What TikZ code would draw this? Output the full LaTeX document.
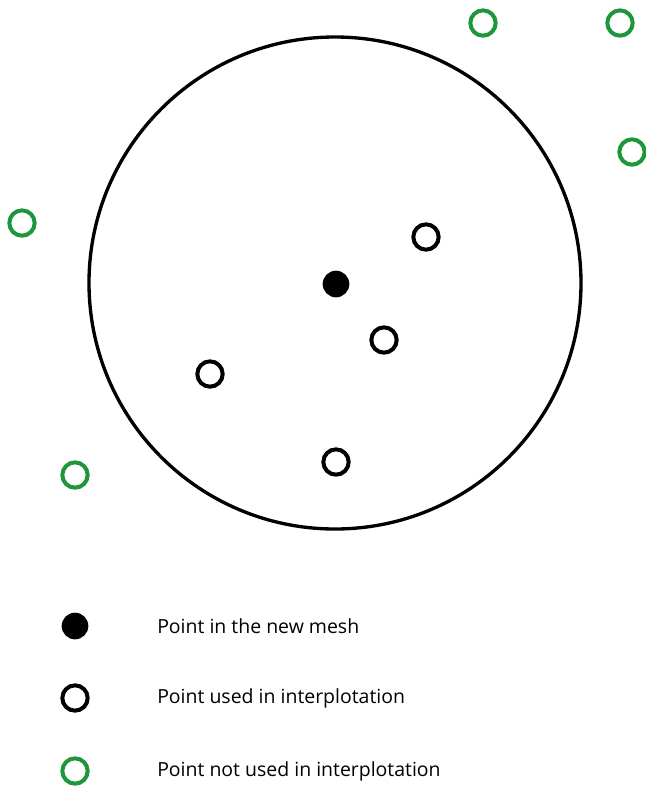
\documentclass[tikz,border=0pt]{standalone}
\usepackage{fontspec}
\setmainfont{Open Sans}
\usepackage{xcolor}
\usepackage{tikz}
\usetikzlibrary{positioning}

\definecolor{ringgreen}{RGB}{30,150,60}

\begin{document}
\begin{tikzpicture}[
x=0.75pt, y=-0.75pt,
node distance=8mm and 17mm,
zone/.style={draw, circle, line width=2.5pt, minimum size=369pt, inner sep=0pt},
newpt/.style={circle, fill=black, minimum size=20pt, inner sep=0pt},
usedpt/.style={circle, draw=black, line width=3pt, minimum size=19pt, inner sep=0pt},
freept/.style={circle, draw=ringgreen, line width=3pt, minimum size=19pt, inner sep=0pt},
lbl/.style={font=\fontsize{14.6}{17}\selectfont, inner sep=0pt}
]
\useasboundingbox (0,0) rectangle (646,794);

% search radius
\node[zone] (zone) at (335,283) {};

% points
\node[newpt] (p0) at (336,284) {};
\node[usedpt] (u1) at (426,237) {};
\node[usedpt] (u2) at (384,340) {};
\node[usedpt] (u3) at (210,374) {};
\node[usedpt] (u4) at (336,462) {};
\node[freept] (f1) at (483,23) {};
\node[freept] (f2) at (620,23) {};
\node[freept] (f3) at (632,152) {};
\node[freept] (f4) at (22,223) {};
\node[freept] (f5) at (75,475) {};

% legend
\node[newpt] (lgnew) at (75,626) {};
\node[usedpt] (lgused) at (75,698) {};
\node[freept] (lgfree) at (75,771) {};
\node[lbl, anchor=west] (txnew) at (157,626) {Point in the new mesh};
\node[lbl, anchor=west] (txused) at (157,698) {Point used in interplotation};
\node[lbl, anchor=west] (txfree) at (157,771) {Point not used in interplotation};
\end{tikzpicture}
\end{document}
